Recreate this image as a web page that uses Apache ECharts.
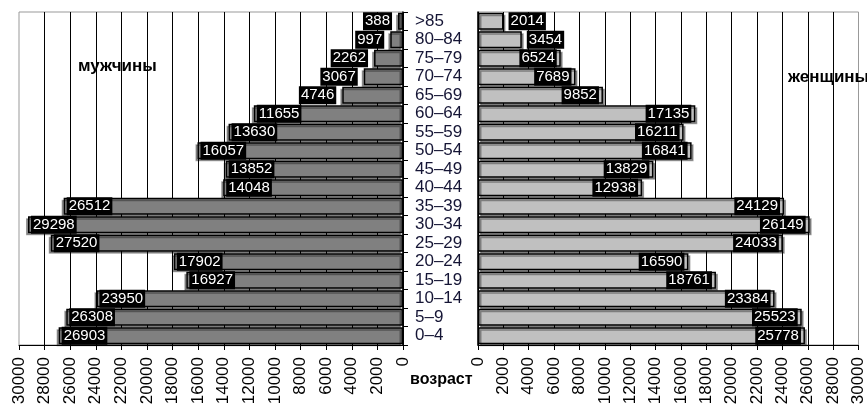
<!DOCTYPE html>
<html>
<head>
<meta charset="utf-8">
<script src="https://cdn.jsdelivr.net/npm/echarts@6/dist/echarts.min.js"></script>
<style>
  html, body { margin: 0; padding: 0; background: #fff; }
  #chart { width: 867px; height: 409px; }
</style>
</head>
<body>
<div id="chart"></div>
<script>
// age groups, bottom to top
const ages = ['0–4', '5–9', '10–14', '15–19', '20–24', '25–29', '30–34', '35–39', '40–44',
  '45–49', '50–54', '55–59', '60–64', '65–69', '70–74', '75–79', '80–84', '>85'];
// мужчины
const men = [26903, 26308, 23950, 16927, 17902, 27520, 29298, 26512, 14048,
  13852, 16057, 13630, 11655, 4746, 3067, 2262, 997, 388];
// женщины
const women = [25778, 25523, 23384, 18761, 16590, 24033, 26149, 24129, 12938,
  13829, 16841, 16211, 17135, 9852, 7689, 6524, 3454, 2014];

const FONT = 'Liberation Sans, Arial, sans-serif';

const chart = echarts.init(document.getElementById('chart'));

const labelBase = {
  show: true,
  color: '#fff',
  backgroundColor: '#000',
  fontFamily: FONT,
  fontSize: 15,
  lineHeight: 17,
  padding: [1, 2, 0, 2]
};

function xAxisCfg(gridIndex, inverse) {
  return {
    type: 'value',
    gridIndex: gridIndex,
    min: 0,
    max: 30000,
    interval: 2000,
    inverse: inverse,
    axisLine: { show: true, lineStyle: { color: '#000' } },
    axisTick: { show: true, length: 5, lineStyle: { color: '#000' } },
    axisLabel: {
      rotate: 90,
      margin: 12,
      fontFamily: FONT,
      fontSize: 17,
      color: '#000',
      formatter: v => String(v),
      showMinLabel: true,
      showMaxLabel: true
    },
    splitLine: { show: true, showMaxLine: false, lineStyle: { color: '#000', width: 1 } }
  };
}

const option = {
  animation: false,
  grid: [
    { left: 19, right: 464, top: 12, bottom: 64, show: true, borderColor: '#999', borderWidth: 1 },
    { left: 478, right: 2, top: 12, bottom: 64, show: true, borderColor: '#999', borderWidth: 1 }
  ],
  xAxis: [xAxisCfg(0, true), xAxisCfg(1, false)],
  yAxis: [
    {
      type: 'category',
      gridIndex: 0,
      position: 'right',
      data: ages,
      axisLine: { show: true, lineStyle: { color: '#000', width: 1.5 } },
      axisTick: { show: true, length: 5, lineStyle: { color: '#000' } },
      axisLabel: {
        interval: 0,
        align: 'left',
        margin: 12,
        fontFamily: FONT,
        fontSize: 17,
        color: '#151535'
      }
    },
    {
      type: 'category',
      gridIndex: 1,
      data: ages,
      axisLine: { show: true, lineStyle: { color: '#000', width: 1.5 } },
      axisTick: { show: false },
      axisLabel: { show: false }
    }
  ],
  series: [
    {
      name: 'мужчины',
      type: 'bar',
      xAxisIndex: 0,
      yAxisIndex: 0,
      barCategoryGap: '8%',
      itemStyle: {
        color: '#808080',
        borderColor: '#000',
        borderWidth: 1.5,
        shadowColor: 'rgba(0,0,0,0.35)',
        shadowOffsetX: -2,
        shadowOffsetY: 2
      },
      data: men.map(v => ({
        value: v,
        label: Object.assign({}, labelBase, v < 5000
          ? { position: 'left', distance: 6 }
          : { position: 'insideLeft', distance: 3 })
      }))
    },
    {
      name: 'женщины',
      type: 'bar',
      xAxisIndex: 1,
      yAxisIndex: 1,
      barCategoryGap: '8%',
      itemStyle: {
        color: '#c0c0c0',
        borderColor: '#000',
        borderWidth: 1.5,
        shadowColor: 'rgba(0,0,0,0.35)',
        shadowOffsetX: 2,
        shadowOffsetY: 2
      },
      data: women.map(v => ({
        value: v,
        label: Object.assign({}, labelBase, v < 5000
          ? { position: 'right', distance: 5 }
          : { position: 'insideRight', distance: 4 })
      }))
    }
  ],
  graphic: [
    {
      type: 'text', left: 78, top: 58,
      style: { text: 'мужчины', fontFamily: FONT, fontSize: 17, fontWeight: 'bold', fill: '#000' }
    },
    {
      type: 'text', left: 788, top: 69,
      style: { text: 'женщины', fontFamily: FONT, fontSize: 17, fontWeight: 'bold', fill: '#000' }
    },
    {
      type: 'text', left: 410, top: 372,
      style: { text: 'возраст', fontFamily: FONT, fontSize: 16, fontWeight: 'bold', fill: '#000' }
    }
  ]
};

chart.setOption(option);
</script>
</body>
</html>
